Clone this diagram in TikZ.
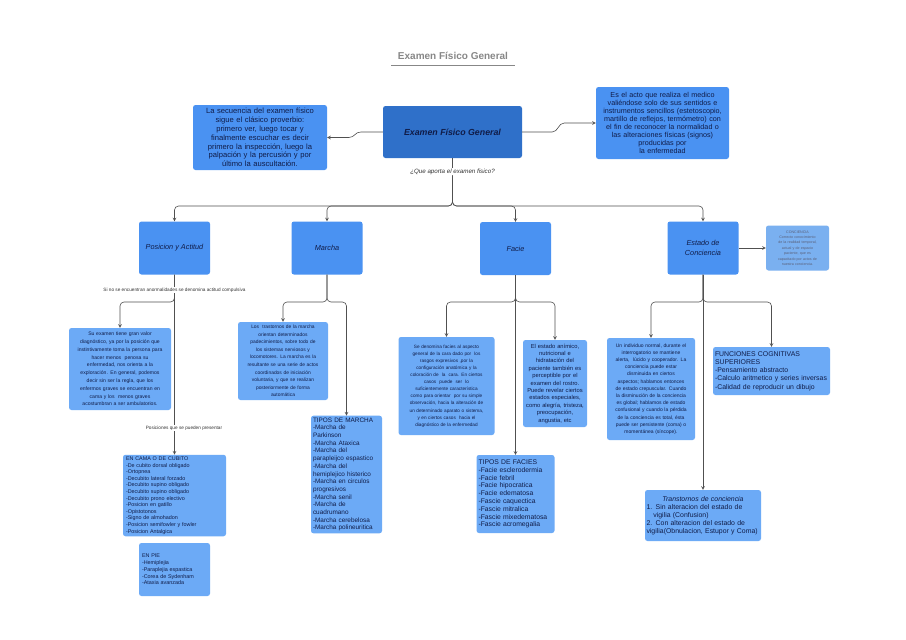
\documentclass[tikz,border=0pt]{standalone}
\usepackage{fontspec}
\setmainfont{Liberation Sans}
\usepackage{tikz}

\definecolor{azulcaja}{RGB}{74,146,242}
\definecolor{azulfuerte}{RGB}{47,112,201}
\definecolor{azulclaro}{RGB}{108,170,246}
\definecolor{azulnota}{RGB}{122,176,240}
\definecolor{tinta}{RGB}{16,28,72}
\definecolor{gris}{RGB}{80,80,80}
\definecolor{gristitulo}{RGB}{135,135,135}
\definecolor{grisnota}{RGB}{90,95,120}
\newcommand{\tam}[2]{\fontsize{#1}{#2}\selectfont}

\begin{document}
\begin{tikzpicture}[x = 1pt, y = -1pt, >= stealth,
    caja/.style = {fill = azulcaja, rounded corners = 2.5pt, text = tinta, align = center, inner sep = 2pt},
    info/.style = {caja, fill = azulclaro},
    flecha/.style = {draw = gris, line width = 0.6pt},
    linea/.style = {flecha, rounded corners = 4pt},
    etiqueta/.style = {fill = white, inner sep = 0.6pt, text = black!80}]
      \fill[white] (0, 0) rectangle (906, 640);
      \useasboundingbox (0, 0) rectangle (906, 640);

      \node[font = \tam{10}{12}\bfseries, text = gristitulo] (titulo) at (453, 56) {Examen Físico General};
      \draw[gristitulo, line width = 0.8pt] ([xshift = -3pt, yshift = -2pt]titulo.south west) -- ([xshift = 3pt, yshift = -2pt]titulo.south east);

      \node[caja, fill = azulfuerte, minimum width = 139pt, minimum height = 52pt, font = \tam{8.8}{10}\bfseries\itshape] (examen) at (452.5, 132) {Examen Físico General};
      \node[caja, minimum width = 134pt, minimum height = 65pt, text width = 130pt, font = \tam{7.6}{8.8}] (secuencia) at (260, 137.5) {La secuencia del examen físico\\ sigue el clásico proverbio:\\ primero ver, luego tocar y\\ finalmente escuchar es decir\\ primero la inspección, luego la\\ palpación y la percusión y por\\ último la auscultación.};
      \node[caja, minimum width = 133pt, minimum height = 72pt, text width = 129pt, font = \tam{7.2}{7.9}] (definicion) at (662.5, 123) {Es el acto que realiza el medico\\ valiéndose solo de sus sentidos e\\ instrumentos sencillos (estetoscopio,\\ martillo de reflejos, termómetro) con\\ el fin de reconocer la normalidad o\\ las alteraciones físicas (signos)\\ producidas por\\ la enfermedad};
      \node[etiqueta, font = \tam{6.2}{7}\itshape] (pregunta) at (452.5, 172) {¿Que aporta el examen fisico?};
      \coordinate (bus) at (452.5, 206);

      \node[caja, minimum width = 71pt, minimum height = 53pt, font = \tam{7.3}{9.5}\itshape] (posicion) at (174.5, 248) {Posicion y Actitud};
      \node[caja, minimum width = 71pt, minimum height = 53pt, font = \tam{7.3}{9.5}\itshape] (marcha) at (327, 248) {Marcha};
      \node[caja, minimum width = 71pt, minimum height = 53pt, font = \tam{7.3}{9.5}\itshape] (facie) at (515.5, 248.5) {Facie};
      \node[caja, minimum width = 71pt, minimum height = 53pt, font = \tam{7.3}{9.5}\itshape] (estado) at (703, 248) {Estado de\\ Conciencia};
      \node[caja, fill = azulnota, minimum width = 63pt, minimum height = 45pt, text width = 59pt, text = grisnota, font = \tam{3.6}{5.4}] (nota) at (797.5, 248) {CONCIENCIA\\ Correcto conocimiento\\ de la realidad temporal,\\ actual y de espacio\\ paciente, que es\\ capacitado por actos de\\ nuestra conciencia.};

      \node[info, minimum width = 102pt, minimum height = 82pt, text width = 98pt, font = \tam{5.1}{7.8}] (posinfo) at (120, 369) {Su examen tiene gran valor\\ diagnóstico, ya por la posición que\\ instintivamente toma la persona para\\ hacer menos\ \ penosa su\\ enfermedad, nos orienta a la\\ exploración. En general, podemos\\ decir sin ser la regla, que los\\ enfermos graves se encuentran en\\ cama y los\ \ menos graves\\ acostumbran a ser ambulatorios.};
      \node[info, align = left, minimum width = 103pt, minimum height = 81pt, text width = 97pt, font = \tam{5.4}{6.6}] (cama) at (174.5, 495.5) {EN CAMA O DE CUBITO\\ -De cubito dorsal obligado\\ -Ortopnea\\ -Decubito lateral forzado\\ -Decubito supino obligado\\ -Decubito supino obligado\\ -Decubito prono electivo\\ -Posicion en gatillo\\ -Opistotonos\\ -Signo de almohadon\\ -Posicion semifowler y fowler\\ -Posicion Antalgica};
      \node[info, align = left, minimum width = 71pt, minimum height = 53pt, text width = 65pt, font = \tam{5.4}{6.8}] (pie) at (174.5, 569.5) {EN PIE\\ -Hemiplejia\\ -Paraplejia espastica\\ -Corea de Sydenham\\ -Ataxia avanzada};

      \node[info, minimum width = 90pt, minimum height = 78pt, text width = 86pt, font = \tam{4.9}{7.6}] (marinfo) at (283, 361) {Los\ \ trastornos de la marcha\\ orientan determinados\\ padecimientos, sobre todo de\\ los sistemas nerviosos y\\ locomotores. La marcha es la\\ resultante se una serie de actos\\ coordinados de iniciación\\ voluntaria, y que se realizan\\ posteriormente de forma\\ automática};
      \node[info, align = left, minimum width = 71pt, minimum height = 117pt, text width = 67pt, font = \tam{6.4}{7.7}] (tiposmarcha) at (346.5, 474.5) {TIPOS DE MARCHA\\ -Marcha de\\ Parkinson\\ -Marcha Ataxica\\ -Marcha del\\ parapleijco espastico\\ -Marcha del\\ hemiplejico histerico\\ -Marcha en circulos\\ progresivos\\ -Marcha senil\\ -Marcha de\\ cuadrumano\\ -Marcha cerebelosa\\ -Marcha polineuritica};

      \node[info, minimum width = 96pt, minimum height = 98pt, text width = 92pt, font = \tam{4.7}{7.1}] (facinfo) at (446.5, 386) {Se denomina facies al aspecto\\ general de la cara dado por\ \ los\\ rasgos expresivos ,por la\\ configuración anatómica y la\\ coloración de\ \ la\ \ cara. En ciertos\\ casos\ \ puede\ \ ser\ \ lo\\ suficientemente característica\\ como para orientar\ \ por su simple\\ observación, hacia la alteración de\\ un determinado aparato o sistema,\\ y en ciertos casos\ \ hacia el\\ diagnóstico de la enfermedad};
      \node[info, minimum width = 64pt, minimum height = 87pt, text width = 62pt, inner sep = 1pt, font = \tam{5.8}{7.4}] (facextra) at (555, 383.5) {El estado anímico,\\ nutricional e\\ hidratación del\\ paciente también es\\ perceptible por el\\ examen del rostro.\\ Puede revelar ciertos\\ estados especiales,\\ como alegría, tristeza,\\ preocupación,\\ angustia, etc};
      \node[info, align = left, minimum width = 78pt, minimum height = 78pt, text width = 74pt, font = \tam{6.8}{7.8}] (tiposfacies) at (515.5, 494) {TIPOS DE FACIES\\ -Facie esclerodermia\\ -Facie febril\\ -Facie hipocratica\\ -Facie edematosa\\ -Fascie caquectica\\ -Fascie mitralica\\ -Fascie mixedematosa\\ -Fascie acromegalia};

      \node[info, minimum width = 88pt, minimum height = 102pt, text width = 84pt, font = \tam{5}{7.2}] (concinfo) at (651, 389) {Un individuo normal, durante el\\ interrogatorio se mantiene\\ alerta,\ \ lúcido y cooperador. La\\ conciencia puede estar\\ disminuida en ciertos\\ aspectos; hablamos entonces\\ de estado crepuscular. Cuando\\ la disminución de la conciencia\\ es global; hablamos de estado\\ confusional y cuando la pérdida\\ de la conciencia es total, ésta\\ puede ser persistente (coma) o\\ momentánea (síncope).};
      \node[info, align = left, minimum width = 117pt, minimum height = 48pt, text width = 113pt, font = \tam{6.9}{8.2}] (cognitivas) at (771.5, 371) {FUNCIONES COGNITIVAS\\ SUPERIORES\\ -Pensamiento abstracto\\ -Calculo aritmetico y series inversas\\ -Calidad de reproducir un dibujo};
      \node[info, align = left, minimum width = 116pt, minimum height = 51pt, text width = 113pt, inner sep = 1.5pt, font = \tam{6.9}{8}] (trastornos) at (703, 515.5) {\makebox[113pt][c]{\itshape Transtornos de conciencia}\\ 1. Sin alteracion del estado de\\ \ \ \ vigilia (Confusion)\\ 2. Con alteracion del estado de\\ vigilia(Obnulacion, Estupor y Coma)};

      \coordinate (pj) at (174.5, 302);
      \coordinate (mj) at (327, 302);
      \coordinate (fj) at (515.5, 302);
      \coordinate (ej) at (703, 302);

      \draw[linea] (examen.south) -- (pregunta.north);
      \draw[flecha, ->] (examen.west) -- ++(-22, 0) .. controls +(-6, 0) and +(6, 0) .. ++(-12, 5.5) -- (secuencia.east);
      \draw[flecha, ->] (examen.east) -- ++(30, 0) .. controls +(6, 0) and +(-6, 0) .. ++(12, -9) -- (definicion.west);
      \draw[linea, ->] (pregunta.south) -- (bus) -| (posicion.north);
      \draw[linea, ->] (pregunta.south) -- (bus) -| (marcha.north);
      \draw[linea, ->] (pregunta.south) -- (bus) -| (facie.north);
      \draw[linea, ->] (pregunta.south) -- (bus) -| (estado.north);
      \draw[linea, ->] (estado.east) -- (nota.west);

      \draw[linea, ->] (posicion.south) -- (cama.north);
      \draw[linea, ->] (posicion.south) -- (pj) -| (posinfo.north);
      \draw[linea, ->] (marcha.south) -- (mj) -| (marinfo.north);
      \draw[linea, ->] (marcha.south) -- (mj) -| (tiposmarcha.north);
      \draw[linea, ->] (facie.south) -- (fj) -| (facinfo.north);
      \draw[linea, ->] (facie.south) -- (fj) -| (facextra.north);
      \draw[linea, ->] (facie.south) -- (tiposfacies.north);
      \draw[linea, ->] (estado.south) -- (ej) -| (concinfo.north);
      \draw[linea, ->] (estado.south) -- (ej) -| (cognitivas.north);
      \draw[linea, ->] (estado.south) -- (trastornos.north);

      \node[etiqueta, font = \tam{4.7}{5}] (anormal) at (174.5, 290) {Si no se encuentran anormalidades se denomina actitud compulsiva};
      \node[etiqueta, font = \tam{4.7}{5}] (posiciones) at (184, 428) {Posiciones que se pueden presentar};
\end{tikzpicture}
\end{document}
